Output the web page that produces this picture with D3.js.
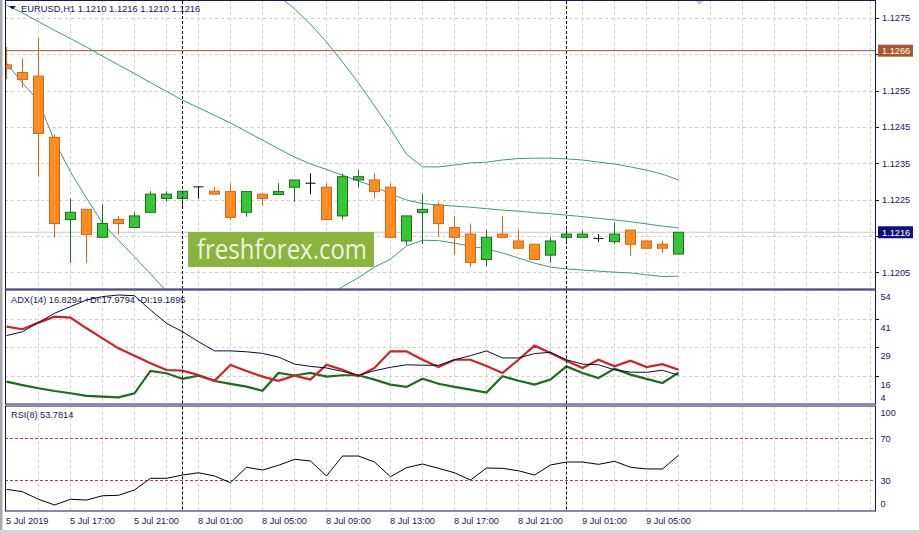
<!DOCTYPE html>
<html><head><meta charset="utf-8">
<script src="https://cdn.jsdelivr.net/npm/d3@7"></script>
<style>
body{margin:0;background:#fff;}
svg{display:block;font-family:"Liberation Sans",Arial,sans-serif;}
</style>
</head><body>
<svg id="c" width="919" height="533"></svg>
<script>
// ---------------- DATA ----------------
const categories = [
 "5 Jul 13:00","5 Jul 14:00","5 Jul 15:00","5 Jul 16:00","5 Jul 17:00","5 Jul 18:00","5 Jul 19:00","5 Jul 20:00",
 "5 Jul 21:00","5 Jul 22:00","5 Jul 23:00",
 "8 Jul 00:00","8 Jul 01:00","8 Jul 02:00","8 Jul 03:00","8 Jul 04:00","8 Jul 05:00","8 Jul 06:00","8 Jul 07:00",
 "8 Jul 08:00","8 Jul 09:00","8 Jul 10:00","8 Jul 11:00","8 Jul 12:00","8 Jul 13:00","8 Jul 14:00","8 Jul 15:00",
 "8 Jul 16:00","8 Jul 17:00","8 Jul 18:00","8 Jul 19:00","8 Jul 20:00","8 Jul 21:00","8 Jul 22:00","8 Jul 23:00",
 "9 Jul 00:00","9 Jul 01:00","9 Jul 02:00","9 Jul 03:00","9 Jul 04:00","9 Jul 05:00","9 Jul 06:00","9 Jul 07:00"
];
const open  = [1.12621,1.12600,1.12590,1.12421,1.12195,1.12223,1.12146,1.12195,1.12173,1.12215,1.12253,
 1.12253,1.12285,1.12273,1.12272,1.12215,1.12265,1.12264,1.12284,1.12295,1.12284,1.12205,1.12304,1.12304,
 1.12284,1.12136,1.12214,1.12235,1.12173,1.12155,1.12085,1.12155,1.12136,1.12127,1.12097,
 1.12146,1.12146,1.12143,1.12134,1.12166,1.12136,1.12127,1.12100];
const high  = [1.12670,1.12639,1.12695,1.12430,1.12253,1.12223,1.12237,1.12205,1.12215,1.12273,1.12273,
 1.12273,1.12285,1.12285,1.12295,1.12272,1.12265,1.12295,1.12304,1.12322,1.12295,1.12322,1.12331,1.12322,
 1.12295,1.12205,1.12265,1.12244,1.12205,1.12184,1.12166,1.12205,1.12166,1.12127,1.12146,
 1.12173,1.12165,1.12155,1.12187,1.12166,1.12136,1.12136,1.12160];
const low   = [1.12582,1.12558,1.12313,1.12146,1.12076,1.12076,1.12146,1.12154,1.12173,1.12215,1.12244,
 1.12230,1.12253,1.12265,1.12193,1.12203,1.12233,1.12264,1.12244,1.12265,1.12195,1.12195,1.12284,1.12253,
 1.12146,1.12125,1.12127,1.12148,1.12097,1.12065,1.12067,1.12146,1.12116,1.12085,1.12076,
 1.12127,1.12146,1.12134,1.12127,1.12095,1.12116,1.12103,1.12100];
const close = [1.12610,1.12581,1.12432,1.12184,1.12215,1.12154,1.12184,1.12184,1.12205,1.12265,1.12265,
 1.12273,1.12285,1.12265,1.12201,1.12272,1.12253,1.12272,1.12304,1.12295,1.12195,1.12313,1.12313,1.12272,
 1.12146,1.12205,1.12223,1.12184,1.12146,1.12077,1.12146,1.12146,1.12116,1.12085,1.12136,
 1.12155,1.12155,1.12143,1.12155,1.12127,1.12116,1.12116,1.12160];

const bbUpper = [1.1295,1.1296,1.1296,1.1300,1.1302,1.1303,1.1303,1.1302,1.1301,1.1299,1.1297,
 1.1295,1.1293,1.1291,1.1289,1.1287,1.1284,1.12811,1.12775,1.12733,1.12684,1.12629,1.12571,1.12508,
 1.12444,1.12375,1.12340,1.12340,1.12345,1.12351,1.12353,1.12359,1.12363,1.12364,1.12364,
 1.12362,1.12359,1.12353,1.12348,1.12340,1.12331,1.12320,1.12304];
const bbMiddle = [1.12786,1.12764,1.12740,1.12716,1.12693,1.12670,1.12645,1.12621,1.12597,1.12572,1.12548,
 1.12524,1.12503,1.12482,1.12461,1.12437,1.12414,1.12390,1.12367,1.12348,1.12333,1.12317,1.12301,1.12286,
 1.12265,1.12249,1.12239,1.12235,1.12232,1.12229,1.12225,1.12221,1.12218,1.12214,1.12211,
 1.12207,1.12203,1.12198,1.12194,1.12189,1.12183,1.12177,1.12172];
const bbLower = [1.12626,1.12571,1.12521,1.12411,1.12326,1.12254,1.12185,1.12138,1.12092,1.12045,1.11998,
 1.11973,1.11957,1.11946,1.11940,1.11940,1.11946,1.11951,1.11959,1.11965,1.11985,1.12010,1.12035,1.12064,
 1.12086,1.12122,1.12138,1.12137,1.12130,1.12122,1.12114,1.12103,1.12089,1.12075,1.12064,
 1.12059,1.12056,1.12053,1.12050,1.12048,1.12043,1.12038,1.12039];

const adx = [34.2,35.9,39.9,44.0,46.9,49.8,51.3,52.0,51.7,45.4,39.6,
 35.9,31.5,27.5,27.5,27.1,26.4,24.8,21.7,20.7,20.0,18.5,16.8,18.8,
 20.3,21.4,21.2,21.2,23.6,25.4,27.5,24.4,24.4,26.3,26.9,
 23.6,21.7,21.4,19.2,18.2,18.1,19.0,16.8294];
const plusDI = [14.0,12.5,11.1,9.9,8.9,7.8,7.4,7.1,8.9,18.7,17.7,
 15.2,16.6,14.3,13.0,11.8,10.0,17.8,16.7,17.8,16.2,16.8,16.8,14.9,
 12.7,11.7,15.3,13.1,11.7,10.5,9.2,16.4,14.4,12.7,14.9,
 20.7,17.8,15.6,19.7,17.1,15.2,13.4,17.9794];
const minusDI = [38.1,37.0,39.9,42.5,42.1,37.4,33.0,28.6,25.4,22.1,19.1,
 18.8,16.9,14.4,21.3,18.7,16.2,14.4,16.6,14.9,21.4,19.2,16.4,20.0,
 27.3,27.3,23.6,20.4,23.6,23.6,20.9,17.8,23.6,29.8,26.6,
 23.2,20.0,23.6,20.7,23.2,20.4,21.7,19.1895];
const rsi = [21.4,19.1,11.9,6.5,11.9,11.2,15.3,15.7,20.8,31.9,31.9,
 35.0,37.2,34.1,27.7,42.4,39.8,44.3,50.0,48.4,34.1,53.1,53.1,47.4,
 33.4,42.0,45.5,41.4,37.2,30.3,41.7,41.4,39.1,35.0,44.6,
 47.4,47.4,45.2,48.1,42.4,40.8,40.8,53.7814];

const priceTicks = [1.1205,1.1215,1.1225,1.1235,1.1245,1.1255,1.1265,1.1275];
const xTickLabels = ["5 Jul 2019","5 Jul 17:00","5 Jul 21:00","8 Jul 01:00","8 Jul 05:00","8 Jul 09:00",
 "8 Jul 13:00","8 Jul 17:00","8 Jul 21:00","9 Jul 01:00","9 Jul 05:00"];
const adxDomain = [4.2, 54.2];
const adxTickLabels = ["54","41","29","16","4"];
const rsiTicks = [100,70,30,0];
const rsiLevels = [70,30];
const levelLine = 1.1266;
const bidPrice = 1.1216;
const headerText = "EURUSD,H1  1.1210 1.1216 1.1210 1.1216";
const adxText = "ADX(14) 16.8294 +DI:17.9794 -DI:19.1895";
const rsiText = "RSI(8) 53.7814";
const watermark = "freshforex.com";

// ---------------- LAYOUT ----------------
const svg = d3.select("#c");
const L = 5, R = 876;
const P = {main:[0,288.5], adx:[289.5,403.5], rsi:[405.5,510.5]};
const navy = "#15155a", fs = 9.2;

const x = d3.scaleBand().domain(categories).range([-1.5, 686.5]).padding(0);
const step = x.step();
const cx = c => x(c) + step/2;
const ci = i => x(categories[0]) + step*(i+0.5);
const y = d3.scaleLinear().domain([1.1205,1.1275]).range([272.2,18]);
const yA = d3.scaleLinear().domain(adxDomain).range([404,290]);
const yR = d3.scaleLinear().domain([0,100]).range([511.8,406.8]);

svg.append("rect").attr("width",919).attr("height",533).attr("fill","#fff");
svg.append("rect").attr("x",0).attr("y",0).attr("width",2.5).attr("height",533).attr("fill","#a8a8a8");
svg.append("rect").attr("x",0).attr("y",530).attr("width",919).attr("height",3).attr("fill","#d6d6d6");

const defs = svg.append("defs");
Object.entries(P).forEach(([k,[t,b]])=>{
  defs.append("clipPath").attr("id","clip-"+k).append("rect")
    .attr("x",L+1).attr("y",t+1).attr("width",R-L-1).attr("height",b-t-1);
});

// vertical grid in all panels
const gridIdx = d3.range(2, 56, 2).filter(i => ci(i) < R-2);
const sepIdx = categories.map((c,i)=> i>0 && c.split(" ")[0] !== categories[i-1].split(" ")[0] ? i : -1).filter(i=>i>=0);
Object.entries(P).forEach(([k,[t,b]])=>{
  const g = svg.append("g").attr("clip-path",`url(#clip-${k})`);
  g.selectAll("line.vg").data(gridIdx).join("line")
   .attr("x1",d=>ci(d)).attr("x2",d=>ci(d)).attr("y1",t).attr("y2",b)
   .attr("stroke","#cfcfcf").attr("stroke-dasharray","3,3");
});

// main horizontal grid
const gm = svg.append("g").attr("clip-path","url(#clip-main)");
gm.selectAll("line.hg").data(priceTicks).join("line")
  .attr("x1",L).attr("x2",R).attr("y1",d=>Math.round(y(d))+0.5).attr("y2",d=>Math.round(y(d))+0.5)
  .attr("stroke","#cfcfcf").attr("stroke-dasharray","3,3");

// ADX grid
const adxLevels = d3.range(5).map(k => adxDomain[1] - k*(adxDomain[1]-adxDomain[0])/4);
const ga = svg.append("g").attr("clip-path","url(#clip-adx)");
ga.selectAll("line").data(adxLevels.slice(1,4)).join("line")
  .attr("x1",L).attr("x2",R).attr("y1",d=>Math.round(yA(d))+0.5).attr("y2",d=>Math.round(yA(d))+0.5)
  .attr("stroke","#cfcfcf").attr("stroke-dasharray","3,3");

// RSI levels
const gr = svg.append("g").attr("clip-path","url(#clip-rsi)");
gr.selectAll("line").data(rsiLevels).join("line")
  .attr("x1",L).attr("x2",R).attr("y1",d=>Math.round(yR(d))+0.5).attr("y2",d=>Math.round(yR(d))+0.5)
  .attr("stroke","#c04040").attr("stroke-dasharray","3,2");

// period separators
Object.entries(P).forEach(([k,[t,b]])=>{
  svg.append("g").selectAll("line").data(sepIdx).join("line")
   .attr("x1",d=>ci(d)).attr("x2",d=>ci(d)).attr("y1",t+1).attr("y2",b)
   .attr("stroke","#000").attr("stroke-dasharray","3,2");
});

// horizontal lines in main
gm.append("line").attr("x1",L).attr("x2",R).attr("y1",y(levelLine)).attr("y2",y(levelLine))
  .attr("stroke","#a0522d").attr("stroke-width",1);
gm.append("line").attr("x1",L).attr("x2",R).attr("y1",y(bidPrice)).attr("y2",y(bidPrice))
  .attr("stroke","#c8c8c8").attr("stroke-width",1);

// Bollinger bands
const bbColor = "#3f9a78";
[bbUpper,bbMiddle,bbLower].forEach(arr=>{
  gm.append("path").datum(arr)
    .attr("d", d3.line().x((d,i)=>ci(i)).y(d=>y(d)))
    .attr("fill","none").attr("stroke",bbColor).attr("stroke-width",1);
});

// candles
const bars = categories.map((c,i)=>({c,o:open[i],h:high[i],l:low[i],cl:close[i]}));
const bullFill="#33c733", bullLine="#1f6e1f", bearFill="#ff8c1e", bearLine="#d2691e";
const cg = gm.append("g");
bars.forEach(b=>{
  const xc = cx(b.c);
  const doji = b.o === b.cl;
  const bull = b.cl > b.o;
  const lc = doji ? "#000" : (bull ? bullLine : bearLine);
  cg.append("line").attr("x1",xc).attr("x2",xc).attr("y1",y(b.h)).attr("y2",y(b.l)).attr("stroke",lc);
  if (doji) {
    cg.append("line").attr("x1",xc-5).attr("x2",xc+5).attr("y1",y(b.o)).attr("y2",y(b.o)).attr("stroke","#000");
  } else {
    const top = y(Math.max(b.o,b.cl)), bot = y(Math.min(b.o,b.cl));
    cg.append("rect").attr("x",xc-5).attr("y",top).attr("width",10).attr("height",Math.max(1,bot-top))
      .attr("fill",bull?bullFill:bearFill).attr("stroke",lc);
  }
});

// watermark
const wm = svg.append("g");
wm.append("rect").attr("x",188).attr("y",232).attr("width",186).attr("height",35).attr("fill","#8cb33e");
wm.append("text").attr("x",197).attr("y",259).attr("font-family","'Open Sans',sans-serif")
  .attr("font-size",27).attr("fill","#eef4e2").attr("textLength",170).attr("lengthAdjust","spacingAndGlyphs")
  .text(watermark);

// small object marker at top
svg.append("path").attr("d",d3.line()([[695,0],[704,0],[699.5,5]])).attr("fill","#c8c8c8");

// ADX lines
const lineA = d3.line().x((d,i)=>ci(i)).y(d=>yA(d));
ga.append("path").datum(plusDI).attr("d",lineA).attr("fill","none").attr("stroke","#1f6b1f").attr("stroke-width",2.2);
ga.append("path").datum(minusDI).attr("d",lineA).attr("fill","none").attr("stroke","#d0202a").attr("stroke-width",2.2);
ga.append("path").datum(adx).attr("d",lineA).attr("fill","none").attr("stroke","#0a0a3a").attr("stroke-width",1);

// RSI line
gr.append("path").datum(rsi).attr("d",d3.line().x((d,i)=>ci(i)).y(d=>yR(d)))
  .attr("fill","none").attr("stroke","#000").attr("stroke-width",1);

// frames
Object.values(P).forEach(([t,b])=>{
  svg.append("rect").attr("x",L+0.5).attr("y",t+0.5).attr("width",R-L-1).attr("height",b-t)
    .attr("fill","none").attr("stroke",navy).attr("stroke-width",1);
});

// right axis: price (labels hidden behind the price tags are not drawn)
const ax = svg.append("g").attr("font-size",fs).attr("fill",navy);
priceTicks.forEach(p=>{
  ax.append("line").attr("x1",R).attr("x2",R+3).attr("y1",Math.round(y(p))+0.5).attr("y2",Math.round(y(p))+0.5).attr("stroke",navy);
  const covered = [levelLine,bidPrice].some(t => Math.abs(y(t)-y(p)) < 10);
  if (!covered) ax.append("text").attr("x",882).attr("y",y(p)+3.3).text(p.toFixed(4));
});
function tag(price,color){
  const yy = y(price);
  ax.append("rect").attr("x",878).attr("y",yy-6).attr("width",35).attr("height",12).attr("fill",color);
  ax.append("text").attr("x",882).attr("y",yy+3.3).attr("fill","#fff").text(price.toFixed(4));
}
tag(levelLine,"#a9582e");
tag(bidPrice,"#10107a");

// ADX axis
adxLevels.forEach((lv,k)=>{
  const yl = yA(lv);
  let cy = k===0 ? P.adx[0]+7.5 : (k===4 ? P.adx[1]-5.5 : yl+9);
  if (k>0 && k<4) ax.append("line").attr("x1",R).attr("x2",R+3).attr("y1",Math.round(yl)+0.5).attr("y2",Math.round(yl)+0.5).attr("stroke",navy);
  ax.append("text").attr("x",880.5).attr("y",cy+3.3).text(adxTickLabels[k]);
});
// RSI axis
rsiTicks.forEach(v=>{
  const cy = Math.min(Math.max(yR(v), P.rsi[0]+7), P.rsi[1]-6.5);
  ax.append("text").attr("x",880.5).attr("y",cy+3.3).text(v);
});

// x axis labels
xTickLabels.forEach((t,k)=>{
  const i = k*4;
  ax.append("text").attr("x",ci(i)-0.5).attr("y",524).text(t);
});

// headers
svg.append("path").attr("d",d3.line()([[9,6],[16,6],[12.5,9.5]])).attr("fill",navy);
svg.append("text").attr("x",21).attr("y",11.5).attr("font-size",fs+0.2).attr("fill",navy).text(headerText);
svg.append("text").attr("x",11).attr("y",303.3).attr("font-size",fs).attr("fill",navy).text(adxText);
svg.append("text").attr("x",11).attr("y",418.3).attr("font-size",fs).attr("fill",navy).text(rsiText);
</script>
</body></html>
